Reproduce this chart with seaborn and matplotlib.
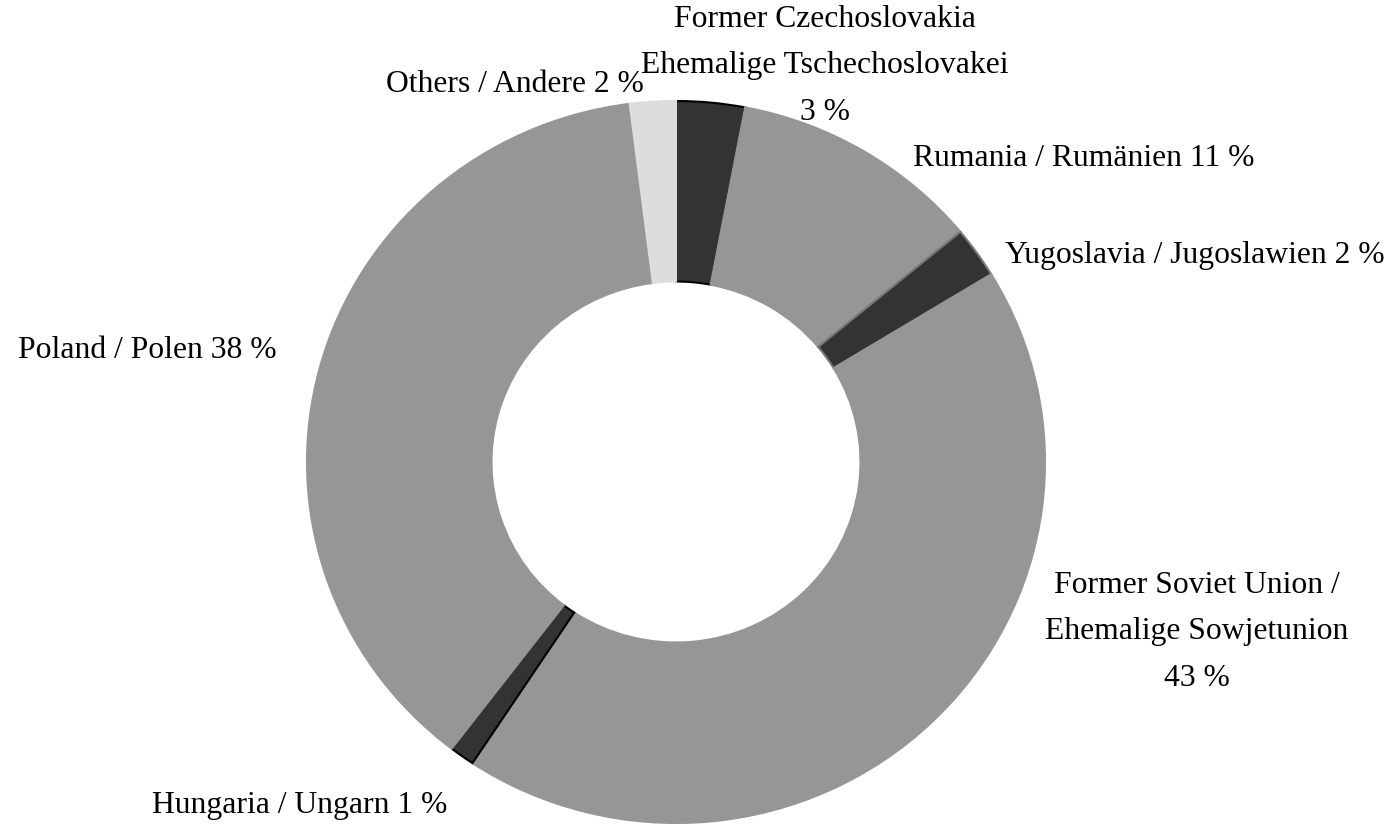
import matplotlib
matplotlib.use("Agg")
import matplotlib.pyplot as plt
import seaborn as sns

# Data (clockwise from 12 o'clock)
countries = [
    "Former Czechoslovakia\nEhemalige Tschechoslovakei\n3 %",
    "Rumania / Rumänien 11 %",
    "Yugoslavia / Jugoslawien 2 %",
    "Former Soviet Union /\nEhemalige Sowjetunion\n43 %",
    "Hungaria / Ungarn 1 %",
    "Poland / Polen 38 %",
    "Others / Andere 2 %",
]
shares = [3.0, 11.0, 2.3, 43.0, 1.1, 37.6, 2.0]

# Styling
fill_colors = ["#333333", "#969696", "#333333", "#969696", "#333333", "#969696", "#dddddd"]
edge_colors = ["#000000", "#969696", "#777777", "#969696", "#000000", "#969696", "#dddddd"]
# label centres in pixels (x, y from top)
label_pos = [(825, 66), (1084, 159), (1195, 256), (1197, 632), (300, 805), (147, 350), (515, 84)]

W, H = 1393, 826

sns.set_theme(style="white")
plt.rcParams["font.family"] = ["Liberation Serif", "DejaVu Serif"]

fig = plt.figure(figsize=(W / 100, H / 100), dpi=100)
fig.patch.set_facecolor("white")

# donut box: centre (676, 462), radii 369 x 361 px
cx, cy, rx, ry = 676, 462, 369, 361
ax = fig.add_axes([(cx - rx) / W, 1 - (cy + ry) / H, 2 * rx / W, 2 * ry / H])

wedges, _ = ax.pie(
    shares,
    colors=fill_colors,
    startangle=90,
    counterclock=False,
    radius=1.0,
    wedgeprops=dict(width=0.5, linewidth=1.5),
)
for w, ec in zip(wedges, edge_colors):
    w.set_edgecolor(ec)

ax.set_aspect("auto")
ax.set_xlim(-1, 1)
ax.set_ylim(-1, 1)
ax.axis("off")

for text, (px, py) in zip(countries, label_pos):
    fig.text(px / W, 1 - py / H, text, ha="center", va="center",
             fontsize=22.8, color="black", linespacing=1.8)

fig.savefig("out.png", dpi=100, facecolor="white")
